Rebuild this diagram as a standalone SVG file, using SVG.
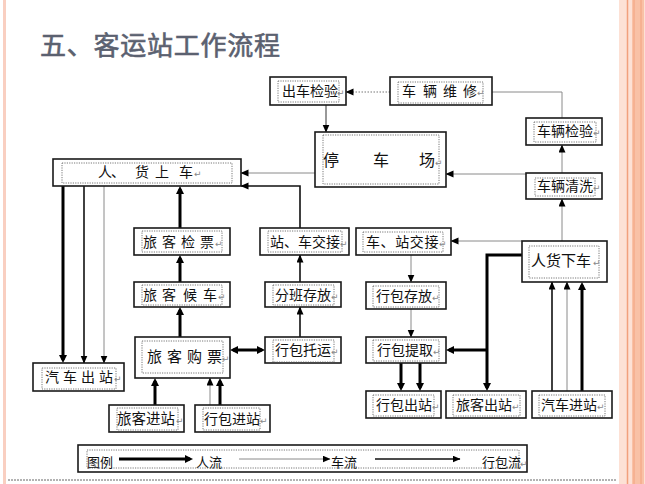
<svg xmlns="http://www.w3.org/2000/svg" width="645" height="484" viewBox="0 0 645 484">
<style>
.box{fill:#fff;stroke:#1a1a1a;stroke-width:1.6}
.in{fill:none;stroke:#555;stroke-width:0.8;stroke-dasharray:1.2 1.2}
.t{font-family:"Noto Sans CJK SC","DejaVu Sans",sans-serif;font-size:14px;fill:#111}
.r{font-family:"DejaVu Sans",sans-serif;font-size:9px;fill:#888}
.thick{fill:none;stroke:#000;stroke-width:3}
.mid{fill:none;stroke:#111;stroke-width:1.6}
.thin{fill:none;stroke:#8a8a8a;stroke-width:1}
.dk{fill:none;stroke:#333;stroke-width:1}
.dot{fill:none;stroke:#777;stroke-width:1;stroke-dasharray:1.5 1.5}
</style>
<defs>
<marker id="a" markerUnits="userSpaceOnUse" markerWidth="8" markerHeight="8" refX="7.5" refY="3.5" orient="auto"><path d="M0,0 L8,3.5 L0,7 z" fill="#000"/></marker>
<marker id="at" markerUnits="userSpaceOnUse" markerWidth="9" markerHeight="9" refX="5" refY="4" orient="auto-start-reverse"><path d="M0,0 L8,4 L0,8 z" fill="#000"/></marker>
</defs>
<rect width="645" height="484" fill="#fff"/>
<rect x="3" y="0" width="3" height="484" fill="#f9cfc1"/>
<rect x="619" y="0" width="26" height="484" fill="#fde1d5"/>
<line x1="627.5" y1="0" x2="627.5" y2="484" stroke="#f2a07c" stroke-width="1.5"/>
<rect x="632" y="0" width="12" height="484" fill="#f9c1a6"/>
<line x1="634" y1="0" x2="634" y2="484" stroke="#f3a27e" stroke-width="1"/>
<line x1="641" y1="0" x2="641" y2="484" stroke="#f3a27e" stroke-width="1"/>
<line x1="8" y1="480" x2="616" y2="480" stroke="#666" stroke-width="1" stroke-dasharray="2 1"/>

<text x="40" y="55" font-family="Noto Sans CJK SC, sans-serif" font-size="26" fill="#5b6170" stroke="#5b6170" stroke-width="0.6" textLength="240">五、客运站工作流程</text>

<g id="connectors">
<path class="dk" d="M326,105 V132" marker-end="url(#a)"/>
<path class="dot" d="M390,92 H346" marker-end="url(#a)"/>
<path class="thin" d="M562,118 V92 H492"/>
<path class="thin" d="M562,173 V145" marker-end="url(#a)"/>
<path class="thin" d="M526,174 H446" marker-end="url(#a)"/>
<path class="thin" d="M315,173 H241" marker-end="url(#a)"/>
<path class="mid" d="M300,228 V186 H241" marker-end="url(#a)"/>
<path class="thick" d="M180,228 V189" marker-end="url(#at)"/>
<path class="thick" d="M180,282 V258" marker-end="url(#at)"/>
<path class="thick" d="M180,337 V310" marker-end="url(#at)"/>
<path class="mid" d="M300,282 V255" marker-end="url(#a)"/>
<path class="mid" d="M300,337 V307" marker-end="url(#a)"/>
<path class="thick" d="M233,350 H262" marker-start="url(#at)" marker-end="url(#at)"/>
<path class="thick" d="M155,405 V381" marker-end="url(#at)"/>
<path class="thin" d="M210,405 V378" marker-end="url(#a)"/>
<path class="thick" d="M220,405 V381" marker-end="url(#at)"/>
<path class="thick" d="M63,186 V360" marker-end="url(#at)"/>
<path class="mid" d="M84,186 V363" marker-end="url(#a)"/>
<path class="thin" d="M104,186 V363" marker-end="url(#a)"/>
<path class="thin" d="M562,241 V199" marker-end="url(#a)"/>
<path class="thin" d="M522,241 H451" marker-end="url(#a)"/>
<path class="thin" d="M411,255 V282" marker-end="url(#a)"/>
<path class="thin" d="M411,309 V337" marker-end="url(#a)"/>
<path class="thick" d="M522,255 H487 V388" marker-end="url(#at)"/>
<path class="thick" d="M487,350 H449" marker-end="url(#at)"/>
<path class="thick" d="M401,363 V388" marker-end="url(#at)"/>
<path class="thick" d="M420,363 V388" marker-end="url(#at)"/>
<path class="mid" d="M552,391 V282" marker-end="url(#a)"/>
<path class="thin" d="M567,391 V282" marker-end="url(#a)"/>
<path class="thick" d="M582,391 V285" marker-end="url(#at)"/>
</g>

<g id="n-chuche"><rect class="box" x="270" y="77" width="76" height="28"/><rect class="in" x="278" y="81" width="61" height="21"/><text class="t" x="282" y="96">出车检验</text><text class="r" x="337" y="96">↵</text></g>
<g id="n-weixiu"><rect class="box" x="390" y="77" width="102" height="28"/><rect class="in" x="398" y="82" width="85" height="21"/><text class="t" x="402 423 443 463" y="96">车辆维修</text><text class="r" x="477" y="96">↵</text></g>
<g id="n-jianyan"><rect class="box" x="526" y="118" width="76" height="27"/><rect class="in" x="534" y="122" width="62" height="20"/><text class="t" x="537" y="136">车辆检验</text><text class="r" x="593" y="136">↵</text></g>
<g id="n-tingche"><rect class="box" x="315" y="132" width="131" height="55"/><rect class="in" x="323" y="135" width="116" height="49"/><text class="t" style="font-size:16px" x="323 373 419" y="166">停车场</text><text class="r" x="435" y="166">↵</text></g>
<g id="n-shangche"><rect class="box" x="53" y="159" width="188" height="27"/><rect class="in" x="62" y="163" width="170" height="20"/><text class="t" x="98 111 135 155 179" y="177">人、货上车</text><text class="r" x="194" y="177">↵</text></g>
<g id="n-qingxi"><rect class="box" x="526" y="173" width="76" height="26"/><rect class="in" x="535" y="178" width="60" height="18"/><text class="t" x="537" y="191">车辆清洗</text><text class="r" x="593" y="191">↵</text></g>
<g id="n-jianpiao"><rect class="box" x="134" y="228" width="96" height="27"/><rect class="in" x="142" y="231" width="80" height="21"/><text class="t" x="143 162 181 200" y="247">旅客检票</text><text class="r" x="215" y="247">↵</text></g>
<g id="n-zhanche"><rect class="box" x="260" y="228" width="89" height="27"/><rect class="in" x="268" y="231" width="74" height="21"/><text class="t" x="270" y="247">站、车交接</text><text class="r" x="340" y="247">↵</text></g>
<g id="n-chezhan"><rect class="box" x="356" y="228" width="95" height="27"/><rect class="in" x="363" y="232" width="80" height="20"/><text class="t" x="366" y="247" letter-spacing="0.6">车、站交接</text><text class="r" x="439" y="247">↵</text></g>
<g id="n-xiache"><rect class="box" x="522" y="241" width="85" height="41"/><rect class="in" x="529" y="246" width="70" height="32"/><text class="t" style="font-size:15px" x="531" y="266">人货下车</text><text class="r" x="593" y="266">↵</text></g>
<g id="n-houche"><rect class="box" x="134" y="282" width="96" height="25"/><rect class="in" x="142" y="285" width="80" height="20"/><text class="t" x="143 162 183 203" y="300">旅客候车</text><text class="r" x="218" y="300">↵</text></g>
<g id="n-fenban"><rect class="box" x="265" y="282" width="76" height="25"/><rect class="in" x="273" y="285" width="61" height="20"/><text class="t" x="275" y="300">分班存放</text><text class="r" x="331" y="300">↵</text></g>
<g id="n-cunfang"><rect class="box" x="366" y="282" width="80" height="27"/><rect class="in" x="373" y="286" width="66" height="21"/><text class="t" x="376" y="301">行包存放</text><text class="r" x="432" y="301">↵</text></g>
<g id="n-goupiao"><rect class="box" x="135" y="337" width="95" height="41"/><rect class="in" x="142" y="341" width="81" height="32"/><text class="t" style="font-size:15px" x="147 167 187 207" y="362">旅客购票</text><text class="r" x="222" y="362">↵</text></g>
<g id="n-tuoyun"><rect class="box" x="265" y="337" width="76" height="26"/><rect class="in" x="273" y="340" width="61" height="22"/><text class="t" x="275" y="355">行包托运</text><text class="r" x="331" y="355">↵</text></g>
<g id="n-tiqu"><rect class="box" x="366" y="337" width="80" height="26"/><rect class="in" x="373" y="340" width="66" height="21"/><text class="t" x="377" y="355">行包提取</text><text class="r" x="433" y="355">↵</text></g>
<g id="n-qichechu"><rect class="box" x="33" y="363" width="91" height="28"/><rect class="in" x="42" y="368" width="74" height="21"/><text class="t" x="45 63 81 99" y="382">汽车出站</text><text class="r" x="114" y="382">↵</text></g>
<g id="n-lvkejin"><rect class="box" x="109" y="405" width="75" height="27"/><rect class="in" x="117" y="408" width="61" height="22"/><text class="t" style="font-size:14.5px" x="117" y="424">旅客进站</text><text class="r" x="176" y="424">↵</text></g>
<g id="n-xingbaojin"><rect class="box" x="195" y="405" width="75" height="27"/><rect class="in" x="203" y="408" width="57" height="22"/><text class="t" x="204" y="424">行包进站</text><text class="r" x="260" y="424">↵</text></g>
<g id="n-xingbaochu"><rect class="box" x="366" y="391" width="75" height="27"/><rect class="in" x="373" y="395" width="61" height="21"/><text class="t" x="376" y="410">行包出站</text><text class="r" x="432" y="410">↵</text></g>
<g id="n-lvkechu"><rect class="box" x="446" y="391" width="80" height="27"/><rect class="in" x="453" y="395" width="67" height="21"/><text class="t" x="456" y="410">旅客出站</text><text class="r" x="512" y="410">↵</text></g>
<g id="n-qichejin"><rect class="box" x="532" y="391" width="80" height="27"/><rect class="in" x="539" y="395" width="66" height="21"/><text class="t" x="541" y="410">汽车进站</text><text class="r" x="597" y="410">↵</text></g>

<g id="legend">
<rect class="box" x="78" y="445" width="449" height="27"/>
<rect class="in" x="87" y="450" width="432" height="18"/>
<text class="t" style="font-size:13px" x="87" y="467">图例</text>
<path class="thick" d="M119,459 H190" marker-end="url(#at)"/>
<text class="t" style="font-size:13px" x="196" y="467">人流</text>
<path class="thin" d="M239,459 H330" marker-end="url(#a)"/>
<text class="t" style="font-size:13px" x="331" y="467">车流</text>
<path class="mid" d="M375,459 H460" marker-end="url(#a)"/>
<text class="t" style="font-size:13px" x="482" y="467">行包流</text>
<text class="r" x="520" y="467">↵</text>
</g>
</svg>
